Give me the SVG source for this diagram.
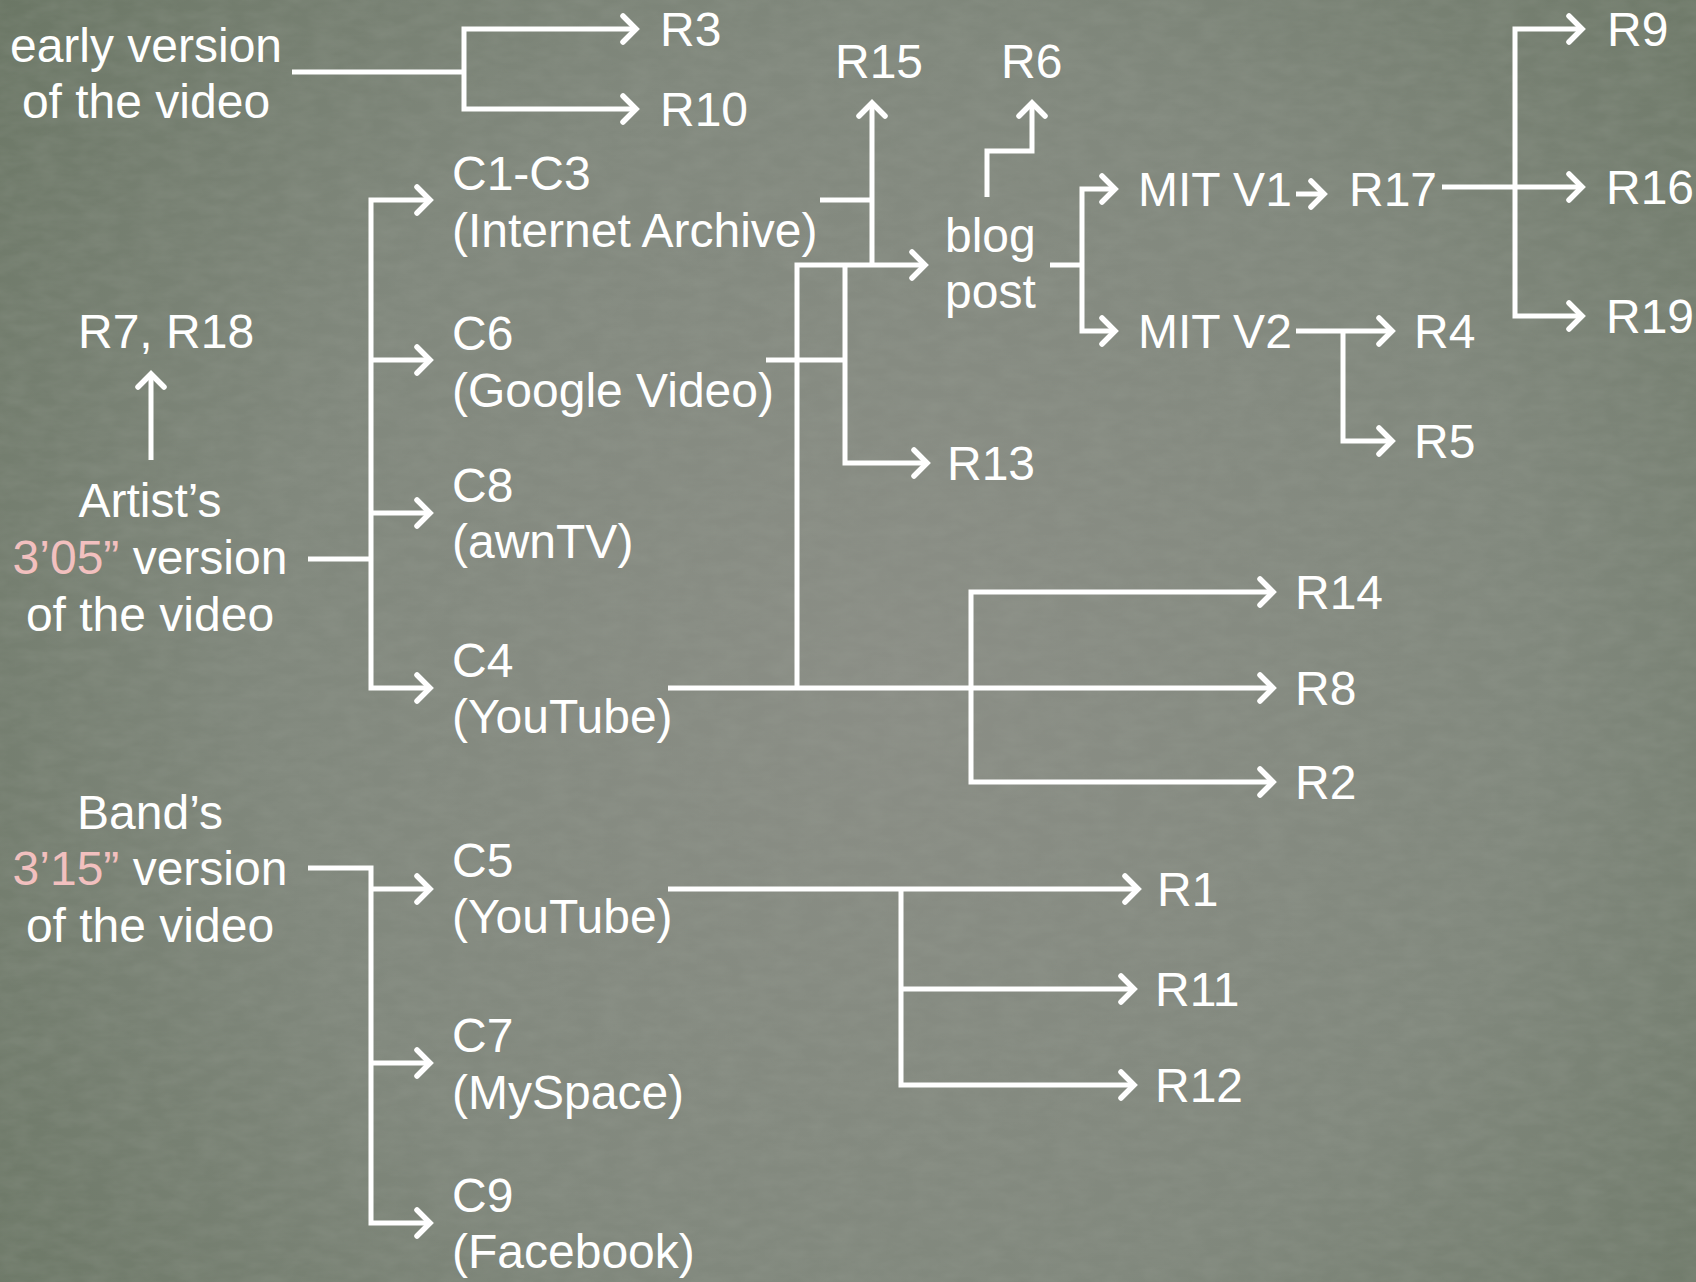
<svg xmlns="http://www.w3.org/2000/svg" width="1696" height="1282" viewBox="0 0 1696 1282">
<defs>
<radialGradient id="bg" cx="900" cy="680" r="1150" gradientUnits="userSpaceOnUse">
<stop offset="0" stop-color="#8b8e86"/>
<stop offset="0.55" stop-color="#81887d"/>
<stop offset="1" stop-color="#6a7664"/>
</radialGradient>
<filter id="noise" x="0" y="0" width="100%" height="100%">
<feTurbulence type="fractalNoise" baseFrequency="0.035 0.08" numOctaves="3" seed="4" result="t"/>
<feColorMatrix type="matrix" values="0 0 0 0 0.35  0 0 0 0 0.38  0 0 0 0 0.33  0 0 0 0.9 -0.25"/>
</filter>
<marker id="ah" markerUnits="userSpaceOnUse" viewBox="-16 -16 20 32" refX="0" refY="0" markerWidth="20" markerHeight="32" orient="auto" overflow="visible">
<path d="M-13,-13 L0,0 L-13,13" fill="none" stroke="#ffffff" stroke-width="5.5" stroke-linecap="round" stroke-linejoin="miter"/>
</marker>
<style>
text{font-family:"Liberation Sans",Arial,sans-serif;font-size:48px;fill:#ffffff;}
.m{text-anchor:middle;}
.pk{fill:#f2c0bf;}
.ln{fill:none;stroke:#ffffff;stroke-width:5;stroke-linecap:butt;stroke-linejoin:miter;}
.ar{marker-end:url(#ah);}
</style>
</defs>
<rect width="1696" height="1282" fill="url(#bg)"/>
<rect width="1696" height="1282" filter="url(#noise)" opacity="0.35"/>

<g id="connectors">
<path class="ln" d="M292,72 H464"/>
<path class="ln ar" d="M464,72 V29 H636"/>
<path class="ln ar" d="M464,72 V109 H636"/>

<path class="ln ar" d="M151,460 V374"/>
<path class="ln" d="M308,559 H371"/>
<path class="ln ar" d="M371,559 V200 H430"/>
<path class="ln ar" d="M371,559 V688 H430"/>
<path class="ln ar" d="M371,360 H430"/>
<path class="ln ar" d="M371,513 H430"/>

<path class="ln ar" d="M308,868 H371 V1223 H430"/>
<path class="ln ar" d="M371,889 H430"/>
<path class="ln ar" d="M371,1063 H430"/>

<path class="ln" d="M820,200 H872"/>
<path class="ln ar" d="M872,265 V103"/>
<path class="ln ar" d="M797,688 V265 H925"/>
<path class="ln" d="M766,360 H845"/>
<path class="ln ar" d="M845,265 V463 H927"/>
<path class="ln ar" d="M987,197 V151 H1032 V103"/>

<path class="ln" d="M1050,265 H1082"/>
<path class="ln ar" d="M1082,265 V189 H1115"/>
<path class="ln ar" d="M1082,265 V331 H1115"/>
<path class="ln ar" d="M1296,194 H1324"/>
<path class="ln ar" d="M1442,187 H1582"/>
<path class="ln ar" d="M1515,187 V29 H1582"/>
<path class="ln ar" d="M1515,187 V316 H1582"/>
<path class="ln ar" d="M1296,331 H1392"/>
<path class="ln ar" d="M1343,331 V441 H1392"/>

<path class="ln ar" d="M668,688 H1273"/>
<path class="ln ar" d="M971,688 V592 H1273"/>
<path class="ln ar" d="M971,688 V782 H1273"/>

<path class="ln ar" d="M668,889 H1138"/>
<path class="ln ar" d="M901,889 V1085 H1134"/>
<path class="ln ar" d="M901,989 H1134"/>
</g>

<g id="early"><text class="m" x="146" y="62">early version</text><text class="m" x="146" y="118">of the video</text></g>
<g id="artist"><text class="m" x="150" y="517">Artist’s</text><text class="m" x="150" y="574"><tspan class="pk">3’05”</tspan> version</text><text class="m" x="150" y="631">of the video</text></g>
<g id="band"><text class="m" x="150" y="829">Band’s</text><text class="m" x="150" y="885"><tspan class="pk">3’15”</tspan> version</text><text class="m" x="150" y="942">of the video</text></g>
<g id="r7r18"><text x="78" y="348">R7, R18</text></g>

<g id="c1c3"><text x="452" y="190">C1-C3</text><text x="452" y="247">(Internet Archive)</text></g>
<g id="c6"><text x="452" y="350">C6</text><text x="452" y="407">(Google Video)</text></g>
<g id="c8"><text x="452" y="502">C8</text><text x="452" y="558">(awnTV)</text></g>
<g id="c4"><text x="452" y="677">C4</text><text x="452" y="733">(YouTube)</text></g>
<g id="c5"><text x="452" y="877">C5</text><text x="452" y="933">(YouTube)</text></g>
<g id="c7"><text x="452" y="1052">C7</text><text x="452" y="1109">(MySpace)</text></g>
<g id="c9"><text x="452" y="1212">C9</text><text x="452" y="1268">(Facebook)</text></g>

<g id="blog"><text x="945" y="252">blog</text><text x="945" y="308">post</text></g>
<g id="mitv1"><text x="1138" y="206">MIT V1</text></g>
<g id="mitv2"><text x="1138" y="348">MIT V2</text></g>

<g id="r3"><text x="660" y="46">R3</text></g>
<g id="r10"><text x="660" y="126">R10</text></g>
<g id="r15"><text x="835" y="78">R15</text></g>
<g id="r6"><text x="1001" y="78">R6</text></g>
<g id="r13"><text x="947" y="480">R13</text></g>
<g id="r17"><text x="1349" y="206">R17</text></g>
<g id="r9"><text x="1607" y="46">R9</text></g>
<g id="r16"><text x="1606" y="204">R16</text></g>
<g id="r19"><text x="1606" y="333">R19</text></g>
<g id="r4"><text x="1414" y="348">R4</text></g>
<g id="r5"><text x="1414" y="458">R5</text></g>
<g id="r14"><text x="1295" y="609">R14</text></g>
<g id="r8"><text x="1295" y="705">R8</text></g>
<g id="r2"><text x="1295" y="799">R2</text></g>
<g id="r1"><text x="1157" y="906">R1</text></g>
<g id="r11"><text x="1155" y="1006">R11</text></g>
<g id="r12"><text x="1155" y="1102">R12</text></g>
</svg>
